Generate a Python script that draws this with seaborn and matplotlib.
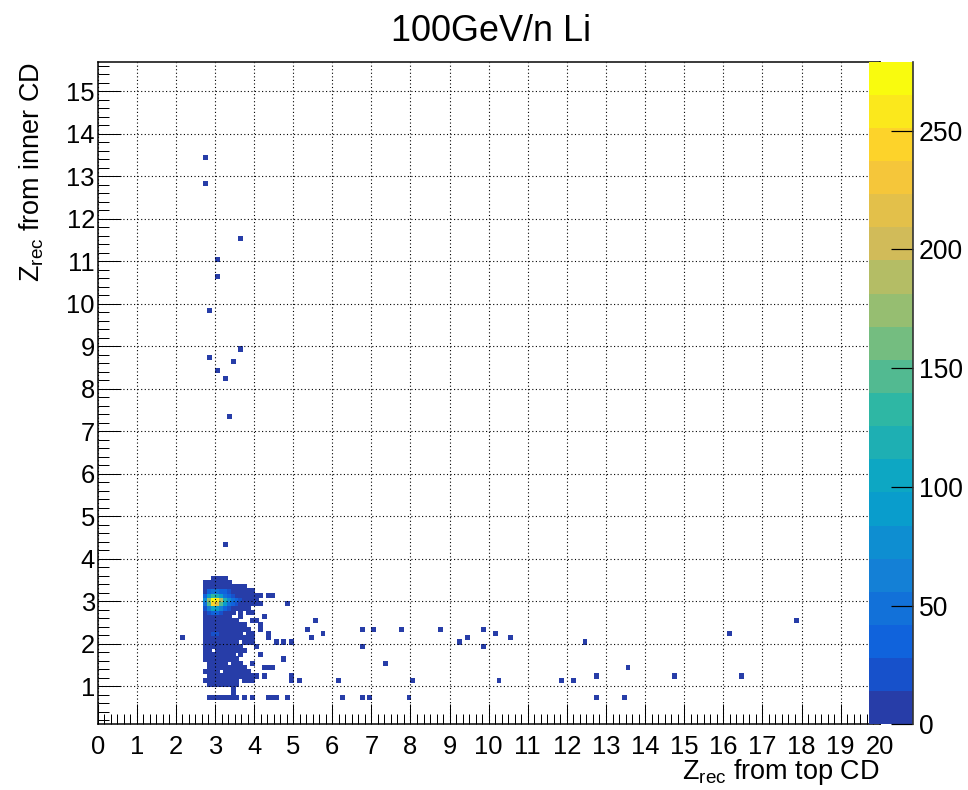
import numpy as np
import matplotlib
matplotlib.use("Agg")
import matplotlib.pyplot as plt
from matplotlib.colors import LinearSegmentedColormap, ListedColormap
from matplotlib.ticker import MultipleLocator, FixedLocator
import seaborn as sns

# ------------------------------------------------------------------ data
title = "100GeV/n Li"
xlabel = r"Z$_{\mathrm{rec}}$ from top CD"
ylabel = r"Z$_{\mathrm{rec}}$ from inner CD"
x_ticks = list(range(0, 21))
y_ticks = list(range(1, 16))
cbar_ticks = [0, 50, 100, 150, 200, 250]
z_max = 279

# dense core: runs of bins (bin lower edges): x_from, x_to, y, count
core_runs = [
    (2.9, 3.2, 3.5, 3), (2.7, 3.3, 3.4, 4),
    (2.7, 3.5, 3.3, 5), (3.6, 3.7, 3.3, 2),
    (2.7, 3.9, 3.2, 6), (2.7, 4.1, 3.1, 6), (4.3, 4.4, 3.1, 1),
    (2.7, 4.0, 3.0, 8), (2.7, 4.1, 2.9, 7), (4.8, 4.8, 2.9, 1),
    (2.7, 3.8, 2.8, 6),
    (2.7, 3.4, 2.7, 5), (3.6, 3.6, 2.7, 2), (3.8, 3.9, 2.7, 1),
    (2.7, 3.3, 2.6, 4), (3.6, 3.6, 2.6, 1), (4.2, 4.2, 2.6, 1),
    (2.7, 3.5, 2.5, 4), (3.9, 4.0, 2.5, 1),
    (2.7, 3.7, 2.4, 4), (4.1, 4.1, 2.4, 1),
    (2.7, 3.8, 2.3, 5), (4.1, 4.1, 2.3, 1),
    (2.7, 3.6, 2.2, 6), (3.8, 3.9, 2.2, 2), (4.3, 4.3, 2.2, 1),
    (2.1, 2.1, 2.1, 1), (2.7, 3.9, 2.1, 6), (4.3, 4.3, 2.1, 1),
    (2.7, 3.5, 2.0, 5), (3.7, 3.9, 2.0, 2), (4.5, 4.5, 2.0, 1),
    (2.7, 3.6, 1.9, 4), (4.0, 4.0, 1.9, 1),
    (2.7, 2.8, 1.8, 3), (3.0, 3.7, 1.8, 3),
    (2.7, 3.4, 1.7, 3), (3.6, 3.6, 1.7, 1), (4.1, 4.1, 1.7, 1),
    (2.7, 3.5, 1.6, 3),
    (2.8, 3.2, 1.5, 3), (3.4, 3.6, 1.5, 2), (3.9, 3.9, 1.5, 1),
    (2.8, 3.7, 1.4, 3), (4.2, 4.4, 1.4, 1),
    (2.7, 3.0, 1.3, 3), (3.2, 3.8, 1.3, 2),
    (2.8, 4.0, 1.2, 3), (4.2, 4.2, 1.2, 1),
    (2.7, 3.5, 1.1, 3), (3.7, 3.9, 1.1, 1),
    (2.8, 3.5, 1.0, 2),
    (3.4, 3.4, 0.9, 1), (3.4, 3.4, 0.8, 1),
    (2.8, 3.5, 0.7, 3), (3.7, 3.7, 0.7, 1), (3.9, 3.9, 0.7, 1),
    (4.3, 4.5, 0.7, 1),
]

# hot spot around (3, 3)
hot_x = [2.9, 3.0, 2.9, 3.0, 2.8, 2.8, 3.1, 3.1, 2.9, 3.0, 2.9, 3.0,
         3.2, 3.2, 2.7, 2.7, 2.8, 3.1, 2.8, 3.1, 3.3, 3.3, 2.9, 3.0,
         2.9, 3.0, 3.4, 3.5, 3.2, 3.2, 2.8, 3.1, 2.7, 2.7, 3.3, 3.3,
         2.8, 3.1, 3.4, 3.6, 3.0, 2.9, 3.4, 3.5, 3.2, 3.3]
hot_y = [3.0, 3.0, 2.9, 2.9, 3.0, 2.9, 3.0, 2.9, 3.1, 3.1, 2.8, 2.8,
         3.0, 2.9, 3.0, 2.9, 3.1, 3.1, 2.8, 2.8, 3.0, 2.9, 3.2, 3.2,
         2.7, 2.7, 3.0, 3.0, 3.1, 2.8, 3.2, 3.2, 3.1, 2.8, 3.1, 2.8,
         2.7, 2.7, 2.9, 3.0, 2.2, 2.2, 3.1, 2.9, 3.2, 3.2]
hot_n = [279, 262, 240, 215, 175, 150, 185, 150, 135, 125, 105, 95,
         120, 95, 70, 55, 85, 85, 65, 65, 75, 55, 55, 50,
         38, 36, 48, 32, 55, 40, 35, 35, 30, 26, 35, 26,
         24, 24, 32, 22, 22, 16, 25, 22, 30, 22]

# isolated single-entry bins
iso_x = [2.7, 2.7, 3.6, 3.0, 3.0, 2.8, 3.6, 2.8, 3.4, 3.0, 3.2, 3.3, 3.2,
         4.8, 5.5, 5.3, 5.7, 5.4, 4.7, 4.9, 4.7, 4.9, 4.9, 5.1, 4.8,
         6.7, 7.0, 7.7, 8.7, 6.7, 7.3, 6.1, 8.0, 6.2, 6.7, 6.9, 7.9,
         9.2, 9.4, 9.8, 9.8, 10.1, 10.5, 10.2, 11.8, 12.1, 12.4, 12.7,
         12.7, 13.4, 13.5, 14.7, 16.1, 16.4, 17.8]
iso_y = [13.4, 12.8, 11.5, 11.0, 10.6, 9.8, 8.9, 8.7, 8.6, 8.4, 8.2, 7.3, 4.3,
         2.9, 2.5, 2.3, 2.2, 2.1, 2.0, 2.0, 1.6, 1.2, 1.1, 1.1, 0.7,
         2.3, 2.3, 2.3, 2.3, 1.9, 1.5, 1.1, 1.1, 0.7, 0.7, 0.7, 0.7,
         2.0, 2.1, 2.3, 1.9, 2.2, 2.1, 1.1, 1.1, 1.1, 2.0, 1.2,
         0.7, 0.7, 1.4, 1.2, 2.2, 1.2, 2.5]

# ------------------------------------------------------------ histogram cells
cells = {}
for x0, x1, y0, n in core_runs:
    for ix in range(int(round(x0 * 10)), int(round(x1 * 10)) + 1):
        cells[(ix, int(round(y0 * 10)))] = n
for x0, y0, n in zip(hot_x, hot_y, hot_n):
    cells[(int(round(x0 * 10)), int(round(y0 * 10)))] = n
for x0, y0 in zip(iso_x, iso_y):
    cells.setdefault((int(round(x0 * 10)), int(round(y0 * 10))), 1)

xs = np.array([k[0] / 10 + 0.05 for k in cells])
ys = np.array([k[1] / 10 + 0.05 for k in cells])
ws = np.array([cells[k] for k in cells], dtype=float)

x_edges = np.arange(0, 201) / 10.0
y_edges = np.arange(1, 158) / 10.0

# ROOT kBird palette, 20 contour levels
stops = [0.0, 0.125, 0.25, 0.375, 0.5, 0.625, 0.75, 0.875, 1.0]
red = [0.2082, 0.0592, 0.0780, 0.0232, 0.1802, 0.5301, 0.8186, 0.9956, 0.9764]
green = [0.1664, 0.3599, 0.5041, 0.6419, 0.7178, 0.7492, 0.7328, 0.7862, 0.9832]
blue = [0.5293, 0.8684, 0.8385, 0.7914, 0.6425, 0.4662, 0.3499, 0.1968, 0.0539]
bird = LinearSegmentedColormap.from_list(
    "bird", list(zip(stops, zip(red, green, blue))), N=255)
levels = 20
cmap = ListedColormap([bird(int((i + 0.99) * 255 / levels) / 254.0)
                       for i in range(levels)])

# ------------------------------------------------------------------ figure
W, H = 968, 790
plt.rcParams["font.family"] = ["Liberation Sans", "DejaVu Sans"]
plt.rcParams["mathtext.fontset"] = "custom"
plt.rcParams["mathtext.rm"] = "Liberation Sans"
plt.rcParams["mathtext.it"] = "Liberation Sans:italic"
plt.rcParams["mathtext.bf"] = "Liberation Sans:bold"

fig = plt.figure(figsize=(W / 100, H / 100), dpi=100)
fl, fr, fb, ft = 97.7, 879.7, 724.3, 61.7
ax = fig.add_axes([fl / W, 1 - fb / H, (fr - fl) / W, (fb - ft) / H])
cax = fig.add_axes([869 / W, 1 - fb / H, 44 / W, (fb - ft) / H])
cax.set_zorder(5)

sns.histplot(x=xs, y=ys, weights=ws, bins=(x_edges, y_edges), cmap=cmap,
             vmin=0, vmax=z_max, cbar=True, cbar_ax=cax, ax=ax,
             edgecolors="face", linewidth=0.55, joinstyle="miter")

ax.set_xlabel("")
ax.set_ylabel("")
ax.set_xlim(0, 20)
ax.set_ylim(0.1, 15.7)
ax.set_facecolor("white")

px = 72 / 100.0  # points per pixel
ax.xaxis.set_major_locator(FixedLocator(x_ticks))
ax.xaxis.set_minor_locator(MultipleLocator(1 / 6))
ax.yaxis.set_major_locator(FixedLocator(y_ticks))
ax.yaxis.set_minor_locator(MultipleLocator(0.2))
ax.set_xticklabels([str(t) for t in x_ticks])
ax.set_yticklabels([str(t) for t in y_ticks])

ax.tick_params(axis="both", which="both", direction="in", top=False,
               right=False, color="black", width=1.0 * px,
               labelsize=25.5 * px, labelcolor="black")
ax.tick_params(axis="x", which="major", length=20 * px, pad=7.5)
ax.tick_params(axis="x", which="minor", length=10 * px)
ax.tick_params(axis="y", which="major", length=23 * px, pad=2)
ax.tick_params(axis="y", which="minor", length=11.5 * px)

ax.set_axisbelow(False)
ax.grid(True, which="major", color="black", linestyle=(0, (1, 2.2)),
        linewidth=0.8)
ax.grid(False, which="minor")
for s in ax.spines.values():
    s.set_linewidth(1.5 * px)
    s.set_color("black")

# colour bar (palette axis)
cb = ax.collections[0].colorbar
cb.outline.set_visible(False)
cb.set_ticks(cbar_ticks)
cb.set_ticklabels([str(t) for t in cbar_ticks])
cax.minorticks_off()
cax.tick_params(axis="y", which="major", direction="in", length=22 * px,
                width=1.2 * px, color="black", right=True, left=False,
                labelright=True, labelleft=False, labelsize=26.5 * px, pad=4)
cax.plot([1, 1], [0, 1], transform=cax.transAxes, color="#333333",
         linewidth=1.2, clip_on=False, zorder=10)

# texts
fig.text(491 / W, 1 - 41 / H, title, ha="center", va="baseline",
         fontsize=36 * px)
fig.text(880 / W, 1 - 779 / H, xlabel, ha="right", va="baseline",
         fontsize=27 * px)
fig.text(32 / W, 1 - 62 / H, ylabel, ha="center", va="top", rotation=90,
         fontsize=27 * px)

fig.savefig("out.png", dpi=100)
